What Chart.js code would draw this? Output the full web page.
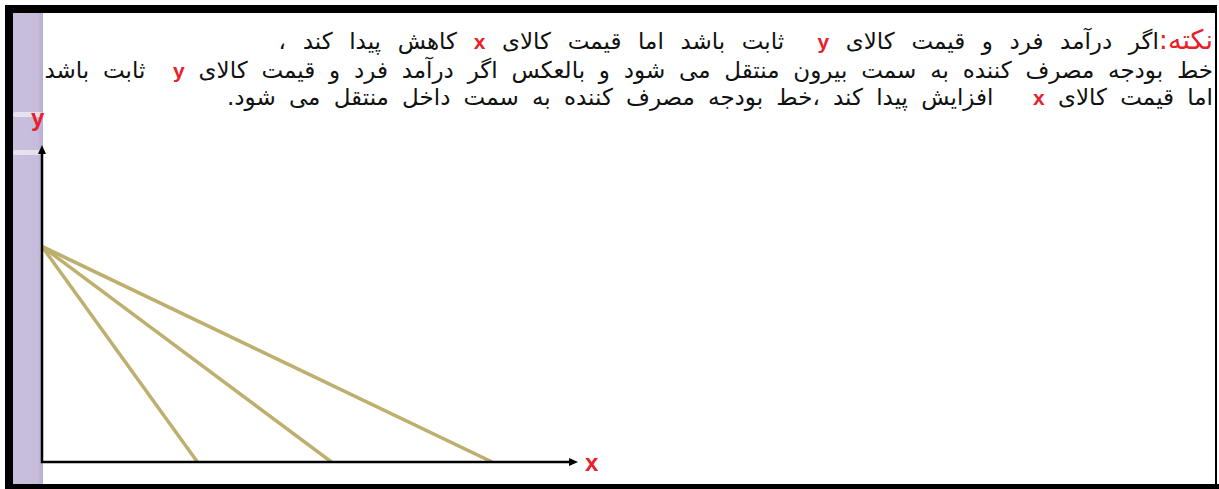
<!DOCTYPE html>
<html>
<head>
<meta charset="utf-8">
<script src="https://cdn.jsdelivr.net/npm/chart.js@4.4.1/dist/chart.umd.min.js"></script>
<style>
  html, body { margin: 0; padding: 0; background: #fff; }
  #page { position: relative; width: 1219px; height: 489px; overflow: hidden; background: #fff; }
  .frame { position: absolute; background: #000; }
  #stripe { position: absolute; left: 13px; top: 13px; width: 30px; height: 471px;
    background: linear-gradient(to right, #c9bfdd 0%, #c6bcdb 80%, #b9aed0 100%); }
  .streak { position: absolute; left: 13px; width: 30px; height: 5px; background: rgba(255,255,255,0.55); border-radius: 3px; }
  #note { position: absolute; right: 6px; top: 26px; width: 1175px; direction: rtl; text-align: right;
    font-family: "DejaVu Sans", sans-serif; font-size: 23px; line-height: 28px; color: #111; white-space: nowrap; word-spacing: 6.5px; }
  #note .l1 { word-spacing: 9.3px; }
  #note .l3 { margin-top: -2px; word-spacing: 5.9px; }
  #note .lat { color: #e8202a; font-weight: bold; font-family: "Liberation Sans", Arial, sans-serif; font-size: 21px; word-spacing: 0; }
  #note .head { color: #e8202a; font-size: 27px; word-spacing: 0; }
  .axlabel { position: absolute; color: #e8202a; font-weight: bold; font-family: "Liberation Sans", Arial, sans-serif; font-size: 24px; }
  canvas { position: absolute; left: 0; top: 0; }
</style>
</head>
<body>
<div id="page">
  <div id="stripe"></div>
  <div class="streak" style="top:112px;"></div>
  <div class="streak" style="top:150px;"></div>
  <div class="frame" style="left:5px; top:5px; width:1212px; height:8px;"></div>
  <div class="frame" style="left:5px; top:5px; width:8px; height:484px;"></div>
  <div class="frame" style="left:5px; top:484px; width:1214px; height:5px;"></div>
  <div class="frame" style="left:1215px; top:5px; width:2px; height:484px;"></div>
  <div id="note">
    <div class="l1"><span class="head">نکته:</span>اگر درآمد فرد و قیمت کالای <span class="lat">y</span>&nbsp; ثابت باشد اما قیمت کالای <span class="lat">x</span> کاهش پیدا کند ،</div>
    <div>خط بودجه مصرف کننده به سمت بیرون منتقل می شود و بالعکس اگر درآمد فرد و قیمت کالای <span class="lat">y</span>&nbsp; ثابت باشد</div>
    <div class="l3">اما قیمت کالای <span class="lat">x</span> &nbsp; افزایش پیدا کند ،خط بودجه مصرف کننده به سمت داخل منتقل می شود.</div>
  </div>
  <div class="axlabel" style="left:31px; top:104px;">y</div>
  <div class="axlabel" style="left:585px; top:449px;">x</div>
  <canvas id="chart" width="1219" height="489"></canvas>
</div>
<script>
// budget lines: same y intercept, three x intercepts
const yIntercept = 6.8;
const xIntercepts = [2.9, 5.4, 8.4];
const axisMax = [10, 10];

const lineColor = '#bdb06e';

const axesPlugin = {
  id: 'arrowAxes',
  afterDraw(chart) {
    const { ctx, chartArea: a } = chart;
    ctx.save();
    ctx.strokeStyle = '#000';
    ctx.fillStyle = '#000';
    ctx.lineWidth = 2.5;
    ctx.beginPath();
    ctx.moveTo(a.left, a.top + 6);
    ctx.lineTo(a.left, a.bottom);
    ctx.lineTo(a.right - 6, a.bottom);
    ctx.stroke();
    // arrow heads
    ctx.beginPath();
    ctx.moveTo(a.left, a.top);
    ctx.lineTo(a.left - 4, a.top + 9);
    ctx.lineTo(a.left + 4, a.top + 9);
    ctx.closePath();
    ctx.fill();
    ctx.beginPath();
    ctx.moveTo(a.right, a.bottom);
    ctx.lineTo(a.right - 9, a.bottom - 4);
    ctx.lineTo(a.right - 9, a.bottom + 4);
    ctx.closePath();
    ctx.fill();
    ctx.restore();
  }
};

const datasets = xIntercepts.map(x => ({
  data: [{ x: 0, y: yIntercept }, { x: x, y: 0 }],
  showLine: true,
  borderColor: lineColor,
  borderWidth: 3.5,
  pointRadius: 0,
  fill: false
}));

new Chart(document.getElementById('chart'), {
  type: 'scatter',
  data: { datasets: datasets },
  options: {
    responsive: false,
    animation: false,
    layout: { padding: { left: 42, top: 145, right: 641, bottom: 27 } },
    plugins: { legend: { display: false }, tooltip: { enabled: false } },
    scales: {
      x: { type: 'linear', min: 0, max: axisMax[0], display: false },
      y: { type: 'linear', min: 0, max: axisMax[1], display: false }
    }
  },
  plugins: [axesPlugin]
});
</script>
</body>
</html>
